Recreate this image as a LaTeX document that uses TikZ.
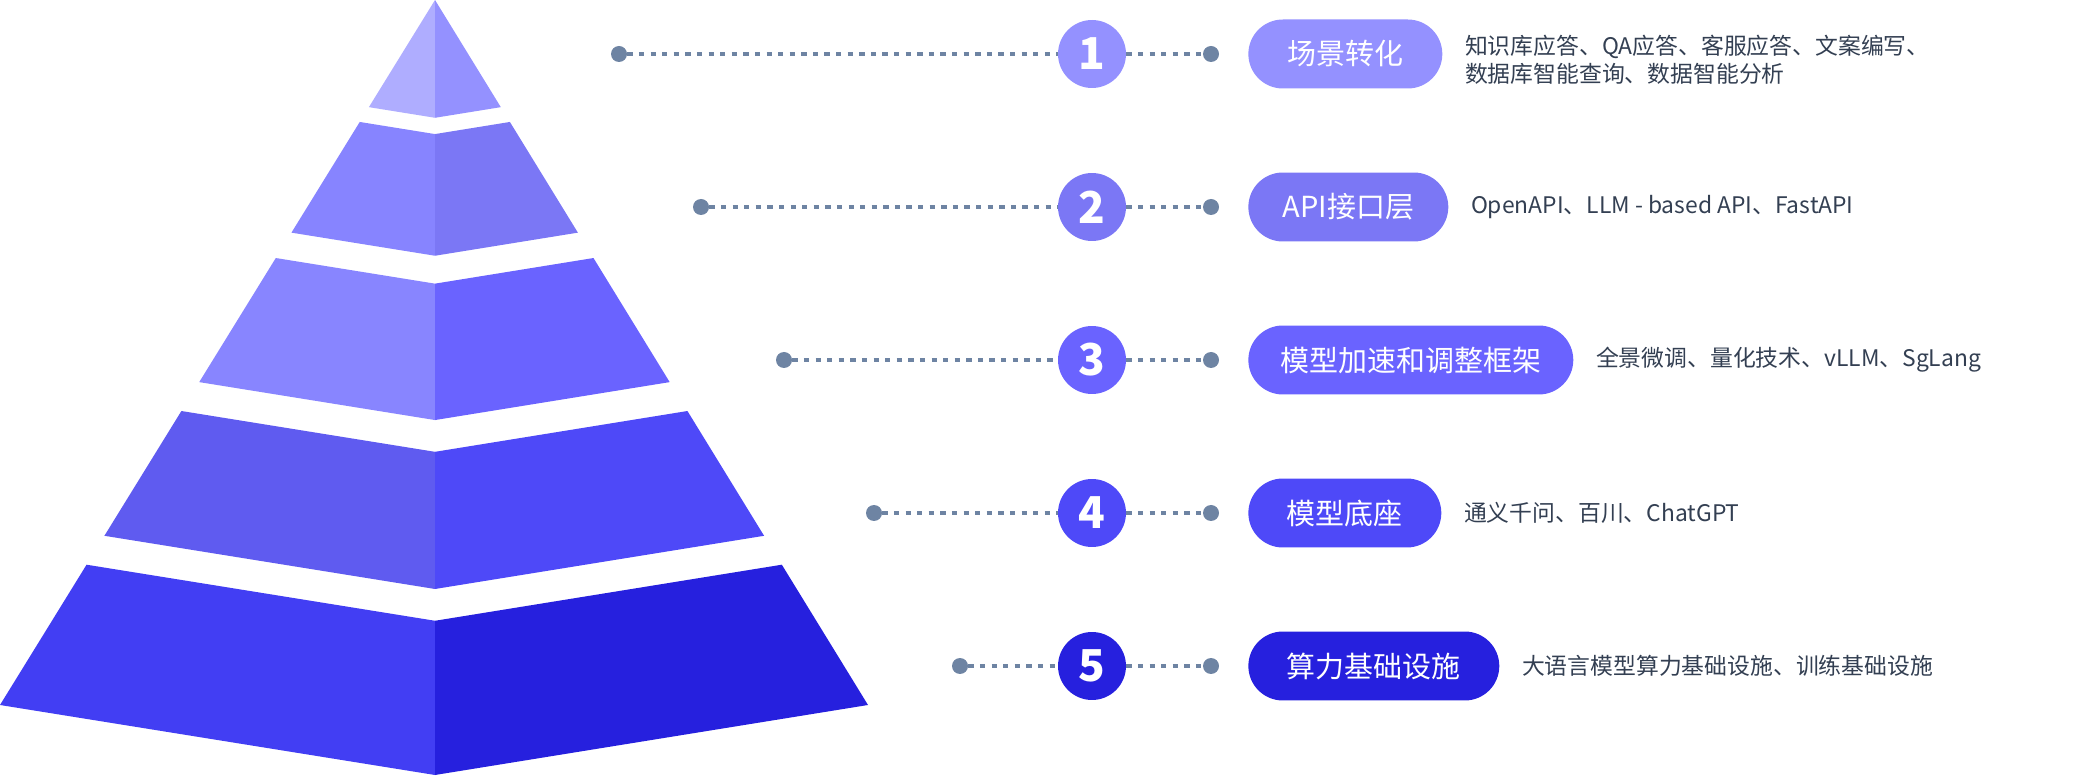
\documentclass[tikz,border=0pt]{standalone}
\usepackage{fontspec}
\setmainfont{Noto Sans CJK SC}
\usetikzlibrary{calc,positioning}

\definecolor{tier1l}{HTML}{AFADFF}
\definecolor{tier1r}{HTML}{9491FF}
\definecolor{tier2l}{HTML}{8784FF}
\definecolor{tier2r}{HTML}{7B77F5}
\definecolor{tier3l}{HTML}{8885FF}
\definecolor{tier3r}{HTML}{6A63FF}
\definecolor{tier4l}{HTML}{5F5BF0}
\definecolor{tier4r}{HTML}{4E49F8}
\definecolor{tier5l}{HTML}{423EF3}
\definecolor{tier5r}{HTML}{2620DE}
\definecolor{dotgray}{HTML}{6E84A3}
\definecolor{descgray}{HTML}{333F52}

\begin{document}
\begin{tikzpicture}[x=0.02cm, y=-0.02cm,
    num/.style={circle, fill=#1, text=white, minimum size=1.36cm, inner sep=0pt,
      font=\fontsize{25pt}{25pt}\selectfont\bfseries},
    pill/.style={fill=#1, text=white, rounded corners=0.69cm, minimum height=1.38cm,
      inner sep=0pt, anchor=west, font=\fontsize{16.5pt}{16.5pt}\selectfont},
    desc/.style={inner sep=0pt, text=descgray, align=left,
      font=\fontsize{13pt}{15.9pt}\selectfont},
    dot/.style={circle, fill=dotgray, minimum size=0.32cm, inner sep=0pt},
    link/.style={dotgray, line width=2pt, dash pattern=on 3pt off 3.6pt}]
    \useasboundingbox (0,0) rectangle (2073,776);

    % pyramid
    \coordinate (top) at (435,0);
    \coordinate (bl) at (0,705);
    \coordinate (br) at (868,705);
    \coordinate (bc) at (435,775);
    \foreach \ta/\tb/\i in {0/0.152/1, 0.173/0.330/2, 0.366/0.542/3, 0.583/0.760/4, 0.801/1/5} {
      \fill[tier\i l] ($(top)!\ta!(bl)$) -- ($(top)!\ta!(bc)$) -- ($(top)!\tb!(bc)$) -- ($(top)!\tb!(bl)$) -- cycle;
      \fill[tier\i r] ($(top)!\ta!(bc)$) -- ($(top)!\ta!(br)$) -- ($(top)!\tb!(br)$) -- ($(top)!\tb!(bc)$) -- cycle;
    }

    \def \rowy {54}
    \node[dot] (d1) at (619,\rowy) {};
    \node[num=tier1r] (n1) at (1092,\rowy) {1};
    \node[dot] (e1) at (1211,\rowy) {};
    \node[pill=tier1r, minimum width=3.88cm] (p1) at (1248,\rowy) {场景转化};
    \node[desc, right=0.44cm of p1, yshift=-0.12cm] (t1) {知识库应答、QA应答、客服应答、文案编写、\\数据库智能查询、数据智能分析};
    \draw[link] (d1) -- (n1);
    \draw[link] (n1) -- (e1);

    \def \rowy {207}
    \node[dot] (d2) at (701,\rowy) {};
    \node[num=tier2r] (n2) at (1092,\rowy) {2};
    \node[dot] (e2) at (1211,\rowy) {};
    \node[pill=tier2r, minimum width=4.0cm] (p2) at (1248,\rowy) {API接口层};
    \node[desc, right=0.44cm of p2] (t2) {OpenAPI、LLM - based API、FastAPI};
    \draw[link] (d2) -- (n2);
    \draw[link] (n2) -- (e2);

    \def \rowy {360}
    \node[dot] (d3) at (784,\rowy) {};
    \node[num=tier3r] (n3) at (1092,\rowy) {3};
    \node[dot] (e3) at (1211,\rowy) {};
    \node[pill=tier3r, minimum width=6.5cm] (p3) at (1248,\rowy) {模型加速和调整框架};
    \node[desc, right=0.44cm of p3] (t3) {全景微调、量化技术、vLLM、SgLang};
    \draw[link] (d3) -- (n3);
    \draw[link] (n3) -- (e3);

    \def \rowy {513}
    \node[dot] (d4) at (874,\rowy) {};
    \node[num=tier4r] (n4) at (1092,\rowy) {4};
    \node[dot] (e4) at (1211,\rowy) {};
    \node[pill=tier4r, minimum width=3.86cm] (p4) at (1248,\rowy) {模型底座};
    \node[desc, right=0.44cm of p4] (t4) {通义千问、百川、ChatGPT};
    \draw[link] (d4) -- (n4);
    \draw[link] (n4) -- (e4);

    \def \rowy {666}
    \node[dot] (d5) at (960,\rowy) {};
    \node[num=tier5r] (n5) at (1092,\rowy) {5};
    \node[dot] (e5) at (1211,\rowy) {};
    \node[pill=tier5r, minimum width=5.02cm] (p5) at (1248,\rowy) {算力基础设施};
    \node[desc, right=0.44cm of p5] (t5) {大语言模型算力基础设施、训练基础设施};
    \draw[link] (d5) -- (n5);
    \draw[link] (n5) -- (e5);
  \end{tikzpicture}
\end{document}
